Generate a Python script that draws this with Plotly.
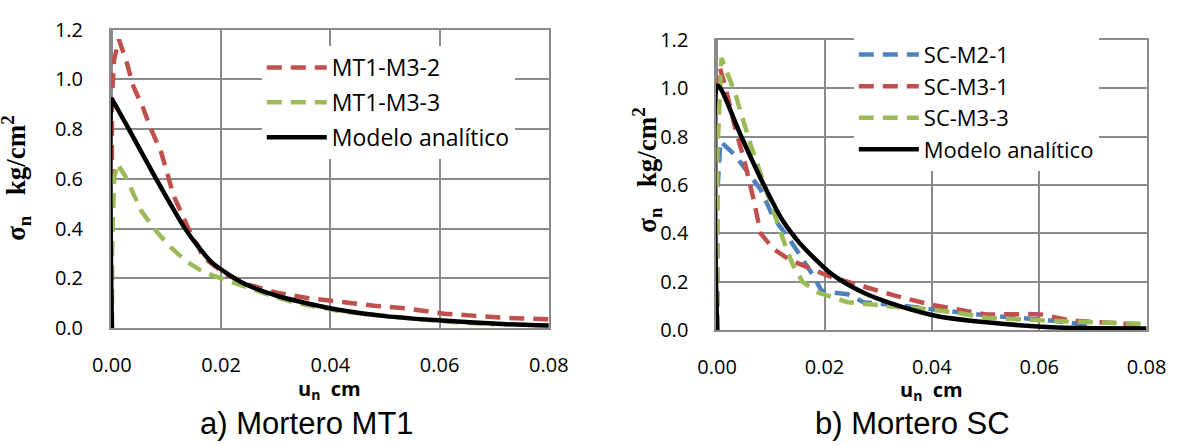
import plotly.graph_objects as go

# ---- a) Mortero MT1 ----
mt1_m3_2_x = [0, 0, 0.0004, 0.0013, 0.0028, 0.0039, 0.0057, 0.0072, 0.0090, 0.0101, 0.0113, 0.0130,
              0.0149, 0.0158, 0.0166, 0.0185, 0.0207, 0.0250, 0.0302, 0.0360, 0.0420, 0.0480, 0.0538,
              0.0609, 0.0660, 0.0715, 0.0800]
mt1_m3_2_y = [0, 0.92, 1.08, 1.160, 1.062, 0.974, 0.886, 0.798, 0.709, 0.621, 0.533, 0.45,
              0.357, 0.331, 0.287, 0.255, 0.218, 0.175, 0.142, 0.120, 0.104, 0.090, 0.079,
              0.058, 0.050, 0.042, 0.035]

mt1_m3_3_x = [0, 0, 0.0004, 0.0010, 0.0025, 0.0039, 0.0054, 0.0084, 0.0110, 0.0137, 0.0160, 0.0184,
              0.0242, 0.0290, 0.0331, 0.0380, 0.0420, 0.0446, 0.0500, 0.0560, 0.0620, 0.0700]
mt1_m3_3_y = [0, 0.30, 0.60, 0.661, 0.609, 0.539, 0.47, 0.382, 0.32, 0.268, 0.235, 0.212,
              0.167, 0.132, 0.104, 0.085, 0.067, 0.062, 0.048, 0.035, 0.025, 0.015]

mt1_model_x = [0, 0, 0.0003, 0.0031, 0.0081, 0.0134, 0.0160, 0.0184, 0.0243, 0.0302, 0.0361,
               0.0420, 0.0500, 0.0597, 0.0715, 0.0800]
mt1_model_y = [0, 0.92, 0.91, 0.80, 0.60, 0.40, 0.322, 0.262, 0.178, 0.130, 0.098,
               0.072, 0.048, 0.031, 0.016, 0.010]

# ---- b) Mortero SC ----
sc_m2_1_x = [0, 0, 0.0006, 0.0033, 0.0081, 0.0105, 0.0135, 0.0155, 0.0177, 0.0195, 0.0220, 0.0243,
             0.0273, 0.0330, 0.0411, 0.0500, 0.0620, 0.0680, 0.0710, 0.0740]
sc_m2_1_y = [0, 0.55, 0.78, 0.724, 0.581, 0.465, 0.375, 0.31, 0.233, 0.162, 0.155, 0.149,
             0.116, 0.105, 0.084, 0.062, 0.041, 0.025, 0.0, 0.0]

sc_m3_1_x = [0, 0, 0.0005, 0.0015, 0.0033, 0.0051, 0.0069, 0.0081, 0.0105, 0.0135, 0.0177, 0.0213,
             0.0273, 0.0333, 0.0400, 0.0459, 0.0501, 0.0580, 0.0604, 0.0658, 0.0742, 0.0790]
sc_m3_1_y = [0, 0.90, 1.085, 1.008, 0.84, 0.698, 0.53, 0.40, 0.336, 0.291, 0.252, 0.22,
             0.181, 0.142, 0.105, 0.084, 0.065, 0.067, 0.065, 0.041, 0.029, 0.023]

sc_m3_3_x = [0, 0, 0.0008, 0.0033, 0.0063, 0.0093, 0.0105, 0.0123, 0.0141, 0.0159, 0.0189, 0.0243,
             0.0333, 0.0380, 0.0440, 0.0501, 0.0622, 0.0742, 0.0800]
sc_m3_3_y = [0, 0.70, 1.124, 0.982, 0.762, 0.568, 0.478, 0.375, 0.271, 0.20, 0.155, 0.116,
             0.097, 0.090, 0.075, 0.052, 0.039, 0.029, 0.026]

sc_model_x = [0, 0, 0.0006, 0.0045, 0.0087, 0.0123, 0.0153, 0.0180, 0.0213, 0.0273, 0.0363,
              0.0411, 0.0501, 0.0622, 0.0700, 0.0800]
sc_model_y = [0, 1.01, 1.00, 0.80, 0.60, 0.45, 0.362, 0.30, 0.233, 0.155, 0.084,
              0.058, 0.033, 0.013, 0.009, 0.007]

x_ticks = [0.00, 0.02, 0.04, 0.06, 0.08]
y_ticks = [0.0, 0.2, 0.4, 0.6, 0.8, 1.0, 1.2]

RED = "#C0504D"
GREEN = "#9BBB59"
BLUE = "#4F81BD"
GRID = "#8A8A8A"
DASH = "15px,9px"
SANS = "Open Sans"
NBSP = "\u00a0"

fig = go.Figure()


def add_line(x, y, name, color, dash, xa, ya, legend, group, shape="linear"):
    fig.add_trace(go.Scatter(
        x=x, y=y, name=name, mode="lines",
        line=dict(color=color, width=4.5, dash=dash, shape=shape, smoothing=0.8),
        xaxis=xa, yaxis=ya, legend=legend, legendgroup=group,
    ))


add_line(mt1_m3_2_x, mt1_m3_2_y, "MT1-M3-2", RED, DASH, "x", "y", "legend", "a1")
add_line(mt1_m3_3_x, mt1_m3_3_y, "MT1-M3-3", GREEN, DASH, "x", "y", "legend", "a2")
add_line(mt1_model_x, mt1_model_y, "Modelo analítico", "black", "solid", "x", "y", "legend", "a3", "spline")

add_line(sc_m2_1_x, sc_m2_1_y, "SC-M2-1", BLUE, DASH, "x2", "y2", "legend2", "b1")
add_line(sc_m3_1_x, sc_m3_1_y, "SC-M3-1", RED, DASH, "x2", "y2", "legend2", "b2")
add_line(sc_m3_3_x, sc_m3_3_y, "SC-M3-3", GREEN, DASH, "x2", "y2", "legend2", "b3")
add_line(sc_model_x, sc_model_y, "Modelo analítico", "black", "solid", "x2", "y2", "legend2", "b4", "spline")

W, H = 1194, 446

xaxis_common = dict(
    range=[-0.0002, 0.08], tickvals=x_ticks, ticktext=[f"{v:.2f}" for v in x_ticks],
    showgrid=True, gridcolor=GRID, gridwidth=1.5, zeroline=False,
    showline=True, linecolor=GRID, linewidth=1.5, mirror=True, ticks="",
    tickfont=dict(family=SANS, size=20, color="black"), ticklabelstandoff=18,
)
yaxis_common = dict(
    range=[0, 1.2], tickvals=y_ticks, ticktext=[f"{v:.1f}" for v in y_ticks],
    showgrid=True, gridcolor=GRID, gridwidth=1.5, zeroline=False,
    showline=True, linecolor=GRID, linewidth=1.5, mirror=True, ticks="",
    tickfont=dict(family=SANS, size=20, color="black"), ticklabelstandoff=22,
)

legend_common = dict(
    bgcolor="white", borderwidth=0, font=dict(family=SANS, color="black"),
    xanchor="left", yanchor="top", itemwidth=60,
)

fig.update_layout(
    width=W, height=H, margin=dict(l=0, r=0, t=0, b=0),
    paper_bgcolor="white", plot_bgcolor="white", showlegend=True,
    xaxis=dict(domain=[94.9 / W, 547.7 / W], anchor="y", **xaxis_common),
    yaxis=dict(domain=[1 - 334.3 / H, 1 - 16.7 / H], anchor="x", **yaxis_common),
    xaxis2=dict(domain=[720.6 / W, 1165.7 / W], anchor="y2", **xaxis_common),
    yaxis2=dict(domain=[1 - 336.7 / H, 1 - 27.3 / H], anchor="x2", **yaxis_common),
    legend=dict(x=251 / W, y=1 - 34 / H, traceorder="grouped", tracegroupgap=2, **legend_common),
    legend2=dict(x=863 / W, y=1 - 21 / H, traceorder="normal", **legend_common),
)
fig.update_layout(legend_font_size=23, legend2_font_size=22)

y_title = f"<b>σ<sub>n</sub>{NBSP}{NBSP}{NBSP}kg/cm<sup>2</sup></b>"
x_title = f"<b>u<sub>n</sub>{NBSP}{NBSP}cm</b>"
annotations = [
    # axis titles
    dict(x=321 / W, y=1 - 400 / H, text=x_title, font=dict(family=SANS, size=20, color="black")),
    dict(x=943 / W, y=1 - 401 / H, text=x_title, font=dict(family=SANS, size=20, color="black")),
    dict(x=18 / W, xshift=-20, y=1 - 175 / H, textangle=-90, text=y_title,
         font=dict(family="Liberation Serif", size=27, color="black")),
    dict(x=649 / W, y=1 - 166 / H, textangle=-90, text=y_title,
         font=dict(family="Liberation Serif", size=27, color="black")),
    # panel captions, sitting on the bottom edge
    dict(x=298 / W, y=0, yanchor="bottom", yshift=-10, text="a) Mortero MT1",
         font=dict(family="Liberation Sans", size=31, color="black")),
    dict(x=924 / W, y=0, yanchor="bottom", yshift=-10, text="b) Mortero SC",
         font=dict(family="Liberation Sans", size=31, color="black")),
]
for a in annotations:
    a.setdefault("yanchor", "middle")
    a.update(xref="paper", yref="paper", showarrow=False, xanchor="center")
fig.update_layout(annotations=annotations)

fig.write_html("out.html")
